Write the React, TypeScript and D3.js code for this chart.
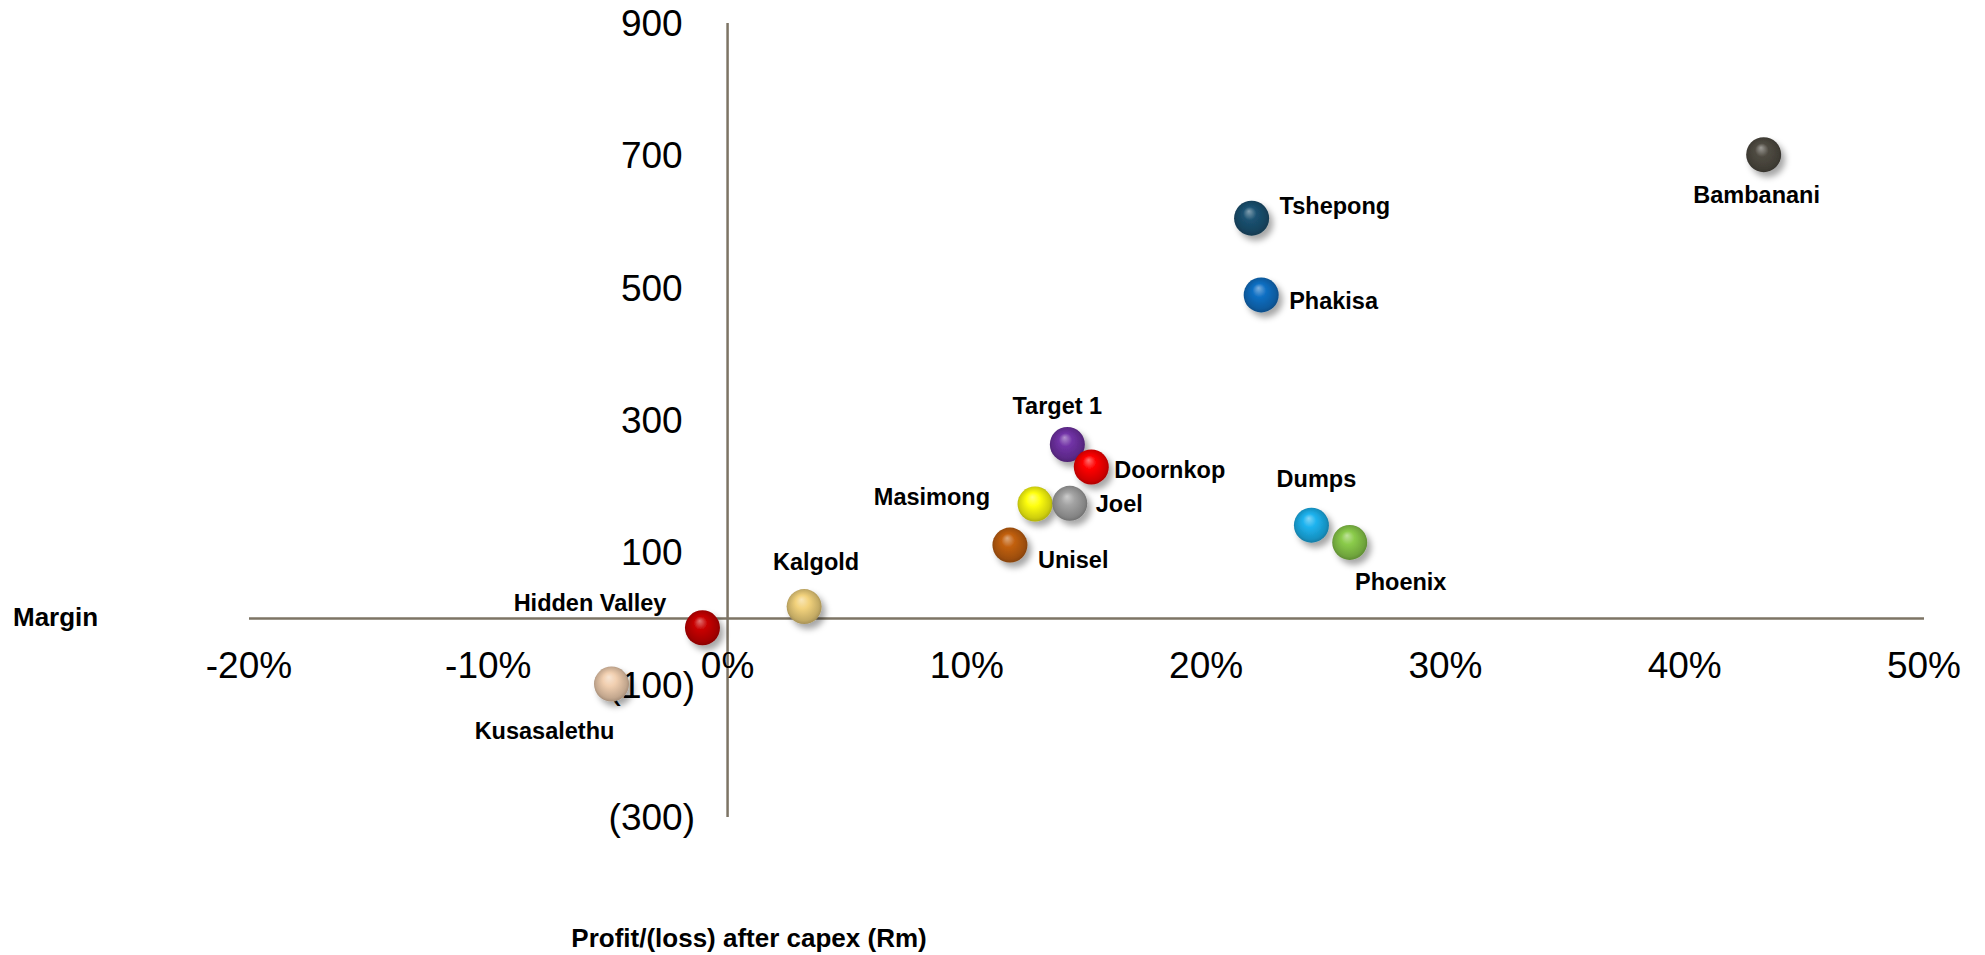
import React, { useEffect, useRef } from 'react';
import * as d3 from 'd3';

// mines, margin (%) and profit/(loss) after capex (Rm)
const mines = ['Bambanani', 'Tshepong', 'Phakisa', 'Target 1', 'Doornkop', 'Masimong', 'Joel', 'Unisel', 'Dumps', 'Phoenix', 'Kalgold', 'Hidden Valley', 'Kusasalethu'];
const margin = [43.3, 21.9, 22.3, 14.2, 15.2, 12.85, 14.3, 11.8, 24.4, 26.0, 3.2, -1.05, -4.85];
const profit = [701, 605, 489, 263, 229, 173, 174, 111, 141, 115, 18, -14, -99];
const colors = ['#4f4b42', '#1b5272', '#1170c4', '#7132a6', '#ff0000', '#ffff10', '#a3a3a3', '#c2600f', '#1db3ef', '#8acb4a', '#f2d27c', '#c80000', '#f1cfb0'];

const xTicks = [-20, -10, 0, 10, 20, 30, 40, 50];
const yTicks = [900, 700, 500, 300, 100, -100, -300];

// label placement relative to each ball: [dx, dy, anchor]
const labelPos: [number, number, string][] = [
  [-7, 40, 'middle'], [28, -12, 'start'], [28, 6, 'start'], [-10, -39, 'middle'],
  [23, 3, 'start'], [-45, -7, 'end'], [26, 0, 'start'], [28, 15, 'start'],
  [5, -46, 'middle'], [51, 39, 'middle'], [12, -45, 'middle'], [-36, -25, 'end'],
  [-67, 47, 'middle'],
];

const font = "Arial, 'Liberation Sans', sans-serif";

const App = () => {
  const svgRef = useRef<SVGSVGElement>(null);

  useEffect(() => {
    const svg = d3.select(svgRef.current);
    svg.selectAll('*').remove();

    const x = d3.scaleLinear().domain([-20, 50]).range([249, 1924]);
    const y = d3.scaleLinear().domain([-300, 900]).range([817, 23]);

    const defs = svg.append('defs');
    const shadow = defs.append('filter').attr('id', 'shadow')
      .attr('x', '-50%').attr('y', '-50%').attr('width', '200%').attr('height', '200%');
    shadow.append('feDropShadow')
      .attr('dx', 4).attr('dy', 5).attr('stdDeviation', 3)
      .attr('flood-color', '#000').attr('flood-opacity', 0.35);

    colors.forEach((c, i) => {
      const g = defs.append('radialGradient').attr('id', `ball${i}`)
        .attr('cx', '50%').attr('cy', '50%').attr('r', '55%')
        .attr('fx', '42%').attr('fy', '30%');
      const base = d3.color(c)!;
      g.append('stop').attr('offset', '0%').attr('stop-color', d3.interpolateRgb(c, '#fff')(0.45));
      g.append('stop').attr('offset', '35%').attr('stop-color', c);
      g.append('stop').attr('offset', '80%').attr('stop-color', base.darker(0.6).formatHex());
      g.append('stop').attr('offset', '100%').attr('stop-color', base.darker(1.3).formatHex());
    });

    // axes lines
    svg.append('line')
      .attr('x1', x(-20)).attr('x2', x(50)).attr('y1', y(0)).attr('y2', y(0))
      .attr('stroke', '#7d7465').attr('stroke-width', 2.5);
    svg.append('line')
      .attr('x1', x(0)).attr('x2', x(0)).attr('y1', y(900)).attr('y2', y(-300))
      .attr('stroke', '#7d7465').attr('stroke-width', 2.5);

    // x tick labels
    svg.selectAll('.xt')
      .data(xTicks)
      .enter()
      .append('text')
      .attr('x', d => x(d))
      .attr('y', y(0) + 47)
      .attr('dy', '0.35em')
      .attr('text-anchor', 'middle')
      .style('font-family', font)
      .style('font-size', '37px')
      .text(d => `${d}%`);

    // y tick labels, accounting style
    const yt = svg.selectAll('.yt')
      .data(yTicks)
      .enter()
      .append('text')
      .attr('x', 695)
      .attr('y', d => y(d))
      .attr('dy', '0.35em')
      .attr('text-anchor', 'end')
      .style('font-family', font)
      .style('font-size', '37px');
    yt.append('tspan').text(d => d < 0 ? `(${Math.abs(d)})` : `${d}`);
    yt.filter(d => d >= 0).append('tspan').attr('fill-opacity', 0).text(')');

    // balls
    svg.selectAll('.ball')
      .data(mines)
      .enter()
      .append('circle')
      .attr('cx', (d, i) => x(margin[i]))
      .attr('cy', (d, i) => y(profit[i]))
      .attr('r', 17.5)
      .attr('fill', (d, i) => `url(#ball${i})`)
      .attr('filter', 'url(#shadow)');

    svg.selectAll('.lbl')
      .data(mines)
      .enter()
      .append('text')
      .attr('x', (d, i) => x(margin[i]) + labelPos[i][0])
      .attr('y', (d, i) => y(profit[i]) + labelPos[i][1])
      .attr('dy', '0.35em')
      .attr('text-anchor', (d, i) => labelPos[i][2])
      .style('font-family', font)
      .style('font-size', '23.5px')
      .style('font-weight', 'bold')
      .text(d => d);

    // axis titles
    svg.append('text')
      .attr('x', 13).attr('y', y(0) - 2).attr('dy', '0.35em')
      .style('font-family', font).style('font-size', '26px').style('font-weight', 'bold')
      .text('Margin');
    svg.append('text')
      .attr('x', 749).attr('y', 938).attr('dy', '0.35em')
      .attr('text-anchor', 'middle')
      .style('font-family', font).style('font-size', '26px').style('font-weight', 'bold')
      .text('Profit/(loss) after capex (Rm)');
  }, []);

  return (
    <svg ref={svgRef} width={1985} height={955}
      style={{ position: 'absolute', left: 0, top: 0, display: 'block', background: '#fff' }}>
    </svg>
  );
};

export default App;
